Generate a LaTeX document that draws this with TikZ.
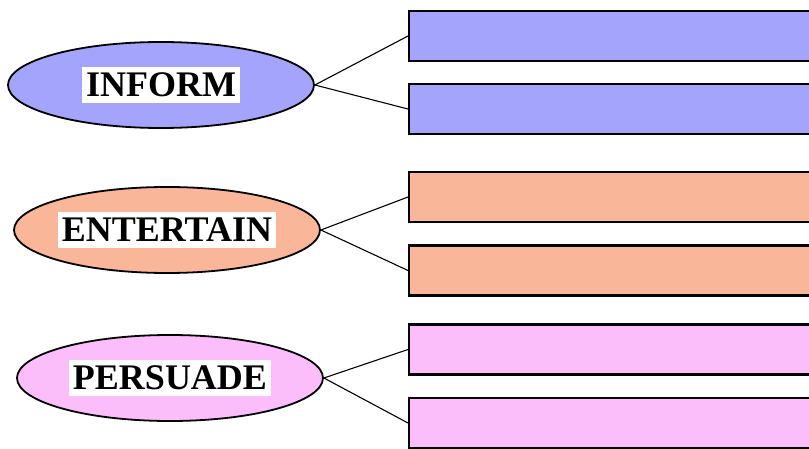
\documentclass[tikz,border=0pt]{standalone}
\usepackage{fontspec}
\setmainfont{Liberation Serif}
\usetikzlibrary{shapes.geometric}
\definecolor{infoblue}{RGB}{164,164,252}
\definecolor{entsalmon}{RGB}{250,182,152}
\definecolor{perspink}{RGB}{252,190,250}
\begin{document}
\begin{tikzpicture}[x=0.5pt, y=-0.5pt,
    purpose/.style={ellipse, draw=black, line width=0.9pt, minimum width=153pt,
      minimum height=43pt, inner sep=0pt},
    purposelbl/.style={fill=white, font=\fontsize{18}{21}\selectfont\bfseries,
      inner xsep=2pt, inner ysep=3pt},
    detailbox/.style={draw=black, line width=1.1pt, anchor=west,
      minimum width=215pt, minimum height=25pt, inner sep=0pt},
    link/.style={draw=black, line width=0.55pt}
  ]
  \useasboundingbox (0,0) rectangle (809,449);
  \clip (0,0) rectangle (809,449);
  \foreach \name/\txt/\clr/\x/\y/\ya/\yb in {%
    inform/INFORM/infoblue/161/85/36/109,
    entertain/ENTERTAIN/entsalmon/167/230/197/270.5,
    persuade/PERSUADE/perspink/170/378/349.5/423%
  }{
    \node[purpose, fill=\clr] (\name) at (\x,\y) {};
    \node[purposelbl] (\name-lbl) at (\name) {\txt};
    \node[detailbox, fill=\clr] (\name-a) at (408,\ya) {};
    \node[detailbox, fill=\clr] (\name-b) at (408,\yb) {};
    \draw[link] (\name.east) -- (\name-a.west);
    \draw[link] (\name.east) -- (\name-b.west);
  }
\end{tikzpicture}
\end{document}
